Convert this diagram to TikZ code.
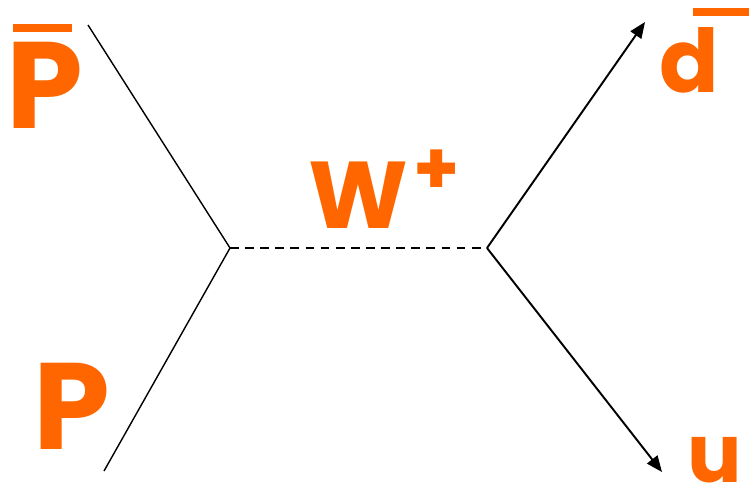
\documentclass[tikz,border=0pt]{standalone}
\usepackage{fontspec}
\setmainfont{Poppins}
\usepackage{xcolor}
\usepackage{tikz}
\usetikzlibrary{arrows.meta,calc}
\definecolor{labelorange}{HTML}{FF6600}
\tikzset{
  fermion/.style={line width=0.8pt, draw=black},
  boson/.style={line width=1.1pt, draw=black, dash pattern=on 5pt off 3.6pt},
  outgoing/.style={line width=1.1pt, draw=black, -{Triangle[length=3.2mm,width=2.6mm]}},
  particle/.style={inner sep=0pt, anchor=base, text=labelorange},
  antibar/.style={line width=4.5pt, draw=labelorange}
}

\begin{document}
\begin{tikzpicture}[x=0.02cm,y=-0.02cm]
\useasboundingbox (0,0) rectangle (749,491);

% vertices and free ends
\coordinate (vin) at (230,248);
\coordinate (vout) at (487,248);
\coordinate (pbarend) at (88,25);
\coordinate (pend) at (104,471);
\coordinate (dbarend) at (645,22);
\coordinate (uend) at (662,472);

% lines
\draw[fermion] (pbarend) -- (vin);
\draw[fermion] (pend) -- (vin);
\draw[boson] (vin) -- (vout);
\draw[outgoing] (vout) -- (dbarend);
\draw[outgoing] (vout) -- (uend);

% labels
\node[particle, font=\fontsize{70}{76}\selectfont\bfseries] (pbar) at (45,128) {P};
\node[particle, font=\fontsize{70}{76}\selectfont\bfseries] (p) at (72,449) {P};
\node[particle, font=\fontsize{54}{60}\selectfont\bfseries] (w) at (358,228) {W};
\node[particle, font=\fontsize{42}{48}\selectfont\bfseries, anchor=center] (plus) at (437,172) {+};
\node[particle, font=\fontsize{50}{56}\selectfont\bfseries] (dbar) at (689,92) {d};
\node[particle, font=\fontsize{46}{52}\selectfont\bfseries] (u) at (715,482) {u};

% antiparticle bars
\draw[antibar] (13,28) -- (72,28);
\draw[antibar] (693,12) -- (749,12);

\end{tikzpicture}
\end{document}
